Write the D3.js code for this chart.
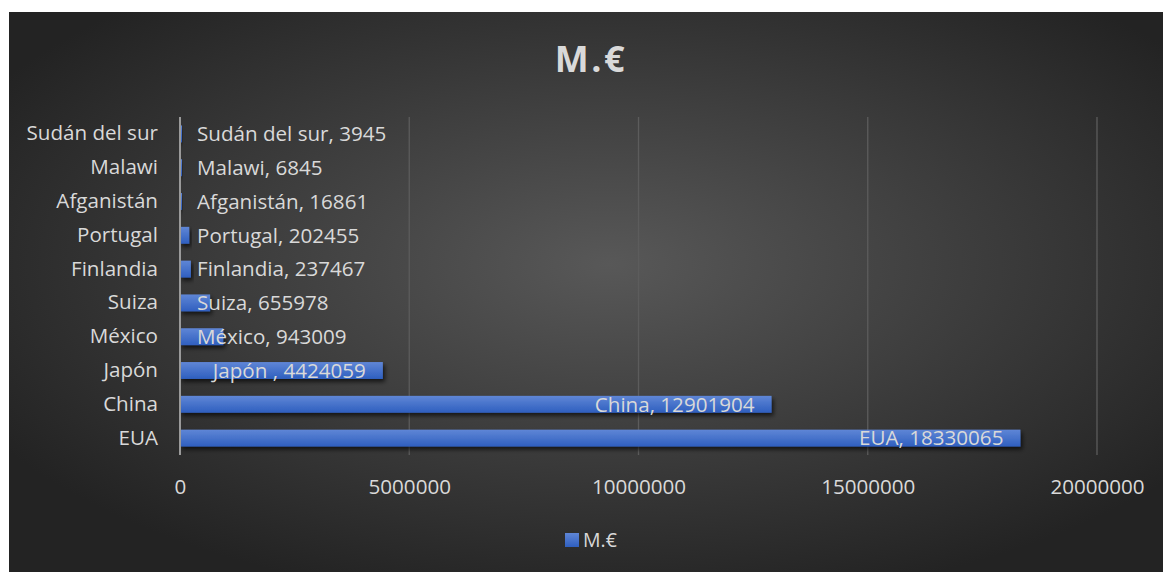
<!DOCTYPE html>
<html>
<head>
<meta charset="utf-8">
<script src="https://cdn.jsdelivr.net/npm/d3@7"></script>
<style>
  body { margin: 0; background: #fff; }
  text { font-family: "Open Sans", sans-serif; fill: #d9d9d9; }
</style>
</head>
<body>
<div class="chart-area"></div>
<script>
const categories = ["EUA", "China", "Japón", "México", "Suiza", "Finlandia", "Portugal", "Afganistán", "Malawi", "Sudán del sur"];
const labelNames = ["EUA", "China", "Japón ", "México", "Suiza", "Finlandia", "Portugal", "Afganistán", "Malawi", "Sudán del sur"];
const values = [18330065, 12901904, 4424059, 943009, 655978, 237467, 202455, 16861, 6845, 3945];
const tickValues = [0, 5000000, 10000000, 15000000, 20000000];
const seriesName = "M.€";

const width = 1163;
const height = 572;

const svg = d3.select(".chart-area")
    .append("svg")
    .attr("width", width)
    .attr("height", height);

const defs = svg.append("defs");

const bg = defs.append("radialGradient")
    .attr("id", "bg")
    .attr("cx", "52%").attr("cy", "45%").attr("r", "62%");
bg.append("stop").attr("offset", "0%").attr("stop-color", "#585858");
bg.append("stop").attr("offset", "100%").attr("stop-color", "#232323");

const barGrad = defs.append("linearGradient")
    .attr("id", "barGrad")
    .attr("x1", 0).attr("y1", 0).attr("x2", 0).attr("y2", 1);
barGrad.append("stop").attr("offset", "0%").attr("stop-color", "#5f86d6");
barGrad.append("stop").attr("offset", "100%").attr("stop-color", "#2f5fbf");

const shadow = defs.append("filter")
    .attr("id", "shadow")
    .attr("x", "-10%").attr("y", "-50%").attr("width", "130%").attr("height", "250%");
shadow.append("feDropShadow")
    .attr("dx", 2).attr("dy", 3)
    .attr("stdDeviation", 2)
    .attr("flood-color", "#000")
    .attr("flood-opacity", 0.65);

// chart background
svg.append("rect")
    .attr("x", 9).attr("y", 12)
    .attr("width", width - 9).attr("height", height - 12)
    .attr("fill", "url(#bg)");

const x = d3.scaleLinear()
    .domain([0, 20000000])
    .range([180, 1097]);

const y = d3.scaleBand()
    .domain(categories.slice().reverse())
    .range([117, 455])
    .paddingInner(0.5)
    .paddingOuter(0.25);

// gridlines
svg.append("g")
    .selectAll("line")
    .data(tickValues.slice(1))
    .enter().append("line")
    .attr("x1", d => x(d)).attr("x2", d => x(d))
    .attr("y1", 117).attr("y2", 455)
    .attr("stroke", "#5c5c5c")
    .attr("stroke-width", 1.3);

// x tick labels
const xAxis = d3.axisBottom(x)
    .tickValues(tickValues)
    .tickFormat(d3.format("d"))
    .tickSize(0)
    .tickPadding(0);

const gx = svg.append("g")
    .attr("transform", "translate(0, 478)")
    .call(xAxis);
gx.select(".domain").remove();
gx.selectAll("text")
    .attr("font-size", "20.6px")
    .attr("font-family", "Open Sans, sans-serif")
    .attr("fill", "#d9d9d9")
    .attr("dy", "0.35em")
    .attr("y", 9);

// bars
svg.append("g")
    .selectAll("rect")
    .data(values)
    .enter().append("rect")
    .attr("x", x(0))
    .attr("y", (d, i) => y(categories[i]))
    .attr("width", d => Math.max(x(d) - x(0), 2))
    .attr("height", y.bandwidth())
    .attr("fill", "url(#barGrad)")
    .attr("filter", "url(#shadow)");

// y axis line
svg.append("line")
    .attr("x1", x(0)).attr("x2", x(0))
    .attr("y1", 117).attr("y2", 455)
    .attr("stroke", "#9a9a9a")
    .attr("stroke-width", 2);

// category labels
const yAxis = d3.axisLeft(y).tickSize(0).tickPadding(0);
const gy = svg.append("g")
    .attr("transform", "translate(158, 0)")
    .call(yAxis);
gy.select(".domain").remove();
gy.selectAll("text")
    .attr("font-size", "20.6px")
    .attr("font-family", "Open Sans, sans-serif")
    .attr("fill", "#d9d9d9");

// data labels
const labels = svg.append("g")
    .selectAll("text")
    .data(values)
    .enter().append("text")
    .attr("font-size", "20.6px")
    .attr("y", (d, i) => y(categories[i]) + y.bandwidth() / 2)
    .attr("dy", "0.35em")
    .text((d, i) => labelNames[i] + ", " + d);

labels.each(function (d) {
    const w = this.getComputedTextLength();
    const end = x(d) - 17;
    if (end - w > 195) {
        d3.select(this).attr("x", end).attr("text-anchor", "end");
    } else {
        d3.select(this).attr("x", 197).attr("text-anchor", "start");
    }
});

// title
svg.append("text")
    .attr("x", 591)
    .attr("y", 72)
    .attr("text-anchor", "middle")
    .attr("font-size", "36px")
    .attr("font-weight", "bold")
    .attr("letter-spacing", "2.5px")
    .attr("fill", "#f2f2f2")
    .text(seriesName);

// legend
svg.append("rect")
    .attr("x", 565).attr("y", 533)
    .attr("width", 14).attr("height", 14)
    .attr("fill", "url(#barGrad)");
svg.append("text")
    .attr("x", 583)
    .attr("y", 547)
    .attr("font-size", "19.5px")
    .text(seriesName);
</script>
</body>
</html>
